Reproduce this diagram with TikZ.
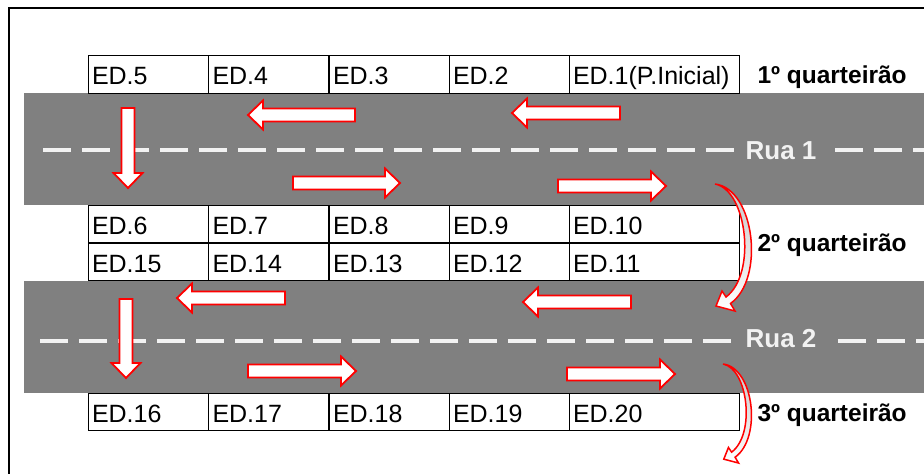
\documentclass[tikz,border=0pt]{standalone}
\usepackage{fontspec}
\setmainfont{Liberation Sans}
\usepackage{xcolor}
\usepackage{tikz}
\usetikzlibrary{positioning}

\definecolor{roadgray}{HTML}{808080}
\definecolor{lanewhite}{HTML}{F2F2F2}

\tikzset{
    cell/.style={draw=black, line width=0.9, fill=white, rectangle, minimum height=37.5, inner xsep=4, inner ysep=0, text width=112pt, text height=20pt, text depth=0pt, align=left, font=\fontsize{25}{29}\selectfont},
    widecell/.style={cell, text width=162pt},
    blocklabel/.style={anchor=west, font=\fontsize{24.5}{28}\selectfont\bfseries},
    streetlabel/.style={text=lanewhite, font=\fontsize{26}{30}\selectfont\bfseries},
    laneline/.style={lanewhite, line width=3.5, dash pattern=on 28 off 11},
    arrowbox/.style={draw=red, line width=1.8, fill=white, line join=miter},
    curvebox/.style={draw=red, line width=1.5, top color=gray!45, bottom color=white, line join=miter}
}

% block arrow: tail x, tail y, angle, length
\newcommand{\roadarrow}[4]{
    \begin{scope}[shift={(#1,#2)}, rotate=#3]
    \draw[arrowbox] (0,-6.5) -- ({#4-15},-6.5) -- ({#4-15},-14.5) -- (#4,0) -- ({#4-15},14.5) -- ({#4-15},6.5) -- (0,6.5) -- cycle;
    \end{scope}
}
% curved arrow between two blocks
\newcommand{\turnarrow}[3]{
    \begin{scope}[shift={(#1,#2)}, scale=#3]
    \draw[curvebox] (0,0) .. controls (40,5) and (50,95) .. (15.5,119.5) -- (20,127) -- (1,122) -- (7,107) -- (11,113) .. controls (42,90) and (32,6) .. (0,0) -- cycle;
    \end{scope}
}

\begin{document}
\begin{tikzpicture}[x=1pt, y=-1pt]
    \useasboundingbox (0,0) rectangle (924,474);
    \draw[line width=1.2] (9,474) -- (9,8) -- (924,8);
    % streets
    \fill[roadgray] (24,93) rectangle (924,205);
    \fill[roadgray] (24,281) rectangle (924,393);
    \draw[laneline] (43,150) -- (734,150);
    \draw[laneline] (835,150) -- (924,150);
    \draw[laneline] (40,341) -- (731,341);
    \draw[laneline] (838,341) -- (924,341);
    \node[streetlabel] (rua1) at (781,151) {Rua 1};
    \node[streetlabel] (rua2) at (781,339) {Rua 2};
    % 1st block
    \node[cell] (ed5) at (148,74.5) {ED.5};
    \node[cell] (ed4) at (268.5,74.5) {ED.4};
    \node[cell] (ed3) at (389,74.5) {ED.3};
    \node[cell] (ed2) at (509,74.5) {ED.2};
    \node[widecell] (ed1) at (654,74.5) {ED.1(P.Inicial)};
    % 2nd block
    \node[cell] (ed6) at (148,224) {ED.6};
    \node[cell] (ed7) at (268.5,224) {ED.7};
    \node[cell] (ed8) at (389,224) {ED.8};
    \node[cell] (ed9) at (509,224) {ED.9};
    \node[widecell] (ed10) at (654,224) {ED.10};
    \node[cell] (ed15) at (148,262) {ED.15};
    \node[cell] (ed14) at (268.5,262) {ED.14};
    \node[cell] (ed13) at (389,262) {ED.13};
    \node[cell] (ed12) at (509,262) {ED.12};
    \node[widecell] (ed11) at (654,262) {ED.11};
    % 3rd block
    \node[cell] (ed16) at (148,412) {ED.16};
    \node[cell] (ed17) at (268.5,412) {ED.17};
    \node[cell] (ed18) at (389,412) {ED.18};
    \node[cell] (ed19) at (509,412) {ED.19};
    \node[widecell] (ed20) at (654,412) {ED.20};
    \node[blocklabel] (q1) at (754,77) {1º quarteirão};
    \node[blocklabel] (q2) at (754,245) {2º quarteirão};
    \node[blocklabel] (q3) at (754,415) {3º quarteirão};
    % route
    \roadarrow{355}{115}{180}{107}
    \roadarrow{620}{113}{180}{108}
    \roadarrow{293}{183}{0}{107}
    \roadarrow{558}{186}{0}{108}
    \roadarrow{128}{108}{-90}{80}
    \roadarrow{285}{298}{180}{108}
    \roadarrow{631}{302}{180}{108}
    \roadarrow{248}{371}{0}{108}
    \roadarrow{567}{374}{0}{108}
    \roadarrow{126}{299}{-90}{79}
    \turnarrow{715}{184}{1}
    \turnarrow{723}{364}{0.78}
\end{tikzpicture}
\end{document}
